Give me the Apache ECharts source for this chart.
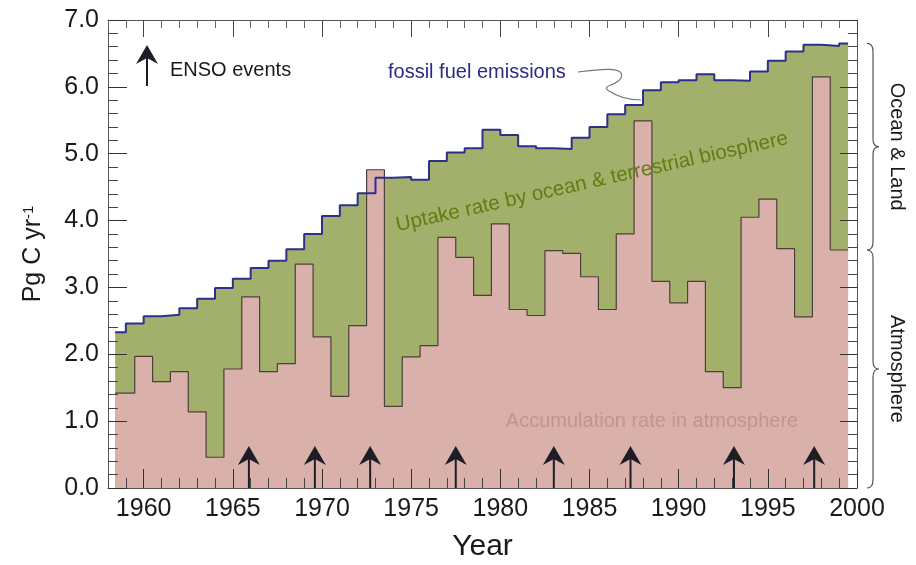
<!DOCTYPE html>
<html>
<head>
<meta charset="utf-8">
<script src="https://cdn.jsdelivr.net/npm/echarts@6/dist/echarts.min.js"></script>
<style>
  html, body { margin: 0; padding: 0; background: #fff; }
  #chart { width: 916px; height: 565px; }
</style>
</head>
<body>
<div id="chart"></div>
<script>
// fossil fuel emissions, one value per year 1958..1999 (Pg C / yr)
const fossilYears = [];
for (let y = 1958; y <= 1999; y++) fossilYears.push(y);
const fossil = [
  2.33, 2.46, 2.57, 2.59, 2.69, 2.83, 2.99, 3.13, 3.29, 3.40,
  3.57, 3.80, 4.07, 4.23, 4.41, 4.64, 4.65, 4.61, 4.89, 5.02,
  5.08, 5.36, 5.28, 5.11, 5.08, 5.07, 5.24, 5.40, 5.59, 5.73,
  5.95, 6.07, 6.10, 6.19, 6.10, 6.09, 6.23, 6.39, 6.53, 6.63,
  6.61, 6.65
];
// accumulation rate in atmosphere, one value per year 1959..1999
const atmosYears = [];
for (let y = 1959; y <= 1999; y++) atmosYears.push(y);
const atmosphere = [
  1.42, 1.97, 1.59, 1.74, 1.14, 0.46, 1.78, 2.86, 1.74, 1.86,
  3.35, 2.26, 1.37, 2.43, 4.76, 1.22, 1.96, 2.13, 3.75, 3.45,
  2.88, 3.95, 2.67, 2.58, 3.55, 3.51, 3.16, 2.67, 3.80, 5.49,
  3.09, 2.77, 3.09, 1.74, 1.50, 4.05, 4.32, 3.58, 2.56, 6.15,
  3.56
];
const recordStart = 1958.4;
const recordEnd = 1999.5;
// El Nino events
const ensoYears = [1965.9, 1969.6, 1972.7, 1977.5, 1983.0, 1987.3, 1993.1, 1997.6];
const majorYears = [1960, 1965, 1970, 1975, 1980, 1985, 1990, 1995, 2000];

const FONT = "'Liberation Sans', Arial, Helvetica, sans-serif";
const GREEN = '#a3b06c';
const PINK = '#d9b0aa';
const BLUE = '#2e2e8c';
const OUTLINE = '#4c3f3a';

// fossil steps change on the year, atmosphere steps on the half year
let fossilPts = [[recordStart, fossil[0]]];
for (let i = 1; i < fossil.length; i++) fossilPts.push([fossilYears[i], fossil[i]]);
fossilPts.push([recordEnd, fossil[fossil.length - 1]]);

let atmosPts = [[recordStart, atmosphere[0]]];
for (let i = 1; i < atmosphere.length; i++) atmosPts.push([atmosYears[i] - 0.5, atmosphere[i]]);
atmosPts.push([recordEnd, atmosphere[atmosphere.length - 1]]);

function bracePath(bx, yt, yb) {
  const ym = (yt + yb) / 2, h = 6, c = 6, r = 8;
  return 'M' + (bx - h) + ' ' + yt +
    ' Q' + bx + ' ' + yt + ' ' + bx + ' ' + (yt + r) +
    ' L' + bx + ' ' + (ym - r) +
    ' Q' + bx + ' ' + ym + ' ' + (bx + c) + ' ' + ym +
    ' Q' + bx + ' ' + ym + ' ' + bx + ' ' + (ym + r) +
    ' L' + bx + ' ' + (yb - r) +
    ' Q' + bx + ' ' + yb + ' ' + (bx - h) + ' ' + yb;
}

const xBase = {
  type: 'value', min: 1958, max: 2000, z: 5,
  splitLine: { show: false },
  axisLine: { lineStyle: { color: '#555', width: 1 } }
};
const yBase = {
  type: 'value', min: 0, max: 7, interval: 1, z: 5,
  splitLine: { show: false },
  axisLine: { show: true, lineStyle: { color: '#555', width: 1 } },
  minorTick: { show: true, splitNumber: 5, length: 10, lineStyle: { color: '#444' } },
  axisTick: { inside: true, length: 19, lineStyle: { color: '#333' } }
};

let chart = echarts.init(document.getElementById('chart'), null, { renderer: 'canvas' });

const curveStyle = { stroke: '#777', lineWidth: 1.2 };

const chartOptions = {
  animation: false,
  backgroundColor: '#fff',
  textStyle: { fontFamily: FONT },
  grid: { left: 108, right: 59, top: 20, bottom: 77, outerBoundsMode: 'none' },
  xAxis: [
    Object.assign({}, xBase, {
      position: 'bottom', interval: 1,
      axisTick: { inside: true, length: 10, lineStyle: { color: '#444' } },
      axisLabel: { show: false }
    }),
    Object.assign({}, xBase, {
      position: 'bottom',
      axisLine: { show: false },
      axisTick: { inside: true, length: 19, customValues: majorYears, lineStyle: { color: '#333' } },
      axisLabel: {
        customValues: majorYears, fontSize: 25, color: '#1a1a1a', margin: 9, fontFamily: FONT,
        formatter: function (v) { return String(v); }
      },
      name: 'Year', nameLocation: 'middle', nameGap: 44,
      nameTextStyle: { fontSize: 30, color: '#1a1a1a', fontFamily: FONT }
    }),
    Object.assign({}, xBase, {
      position: 'top', interval: 1,
      axisTick: { inside: true, length: 8, lineStyle: { color: '#666' } },
      axisLabel: { show: false }
    }),
    Object.assign({}, xBase, {
      position: 'top',
      axisLine: { show: false },
      axisTick: { inside: true, length: 17, customValues: majorYears, lineStyle: { color: '#444' } },
      axisLabel: { show: false }
    })
  ],
  yAxis: [
    Object.assign({}, yBase, {
      position: 'left',
      axisLabel: {
        fontSize: 25, color: '#1a1a1a', margin: 9, fontFamily: FONT,
        formatter: function (v) { return v.toFixed(1); }
      },
      name: '{t|Pg C yr}{s|-1}', nameLocation: 'middle', nameGap: 62,
      nameTextStyle: {
        color: '#1a1a1a', fontFamily: FONT,
        rich: {
          t: { fontSize: 25, fontFamily: FONT, color: '#1a1a1a' },
          s: { fontSize: 15, fontFamily: FONT, color: '#1a1a1a', verticalAlign: 'top' }
        }
      }
    }),
    Object.assign({}, yBase, {
      position: 'right',
      axisTick: { inside: true, length: 17, lineStyle: { color: '#333' } },
      minorTick: { show: true, splitNumber: 5, length: 9, lineStyle: { color: '#444' } },
      axisLabel: { show: false }
    })
  ],
  series: [
    {
      name: 'ocean & land uptake',
      type: 'line', step: 'end', data: fossilPts,
      showSymbol: false, z: 1,
      lineStyle: { width: 0 },
      areaStyle: { color: GREEN, opacity: 1 }
    },
    {
      name: 'atmosphere',
      type: 'line', step: 'end', data: atmosPts,
      showSymbol: false, z: 2,
      lineStyle: { color: OUTLINE, width: 1.2 },
      areaStyle: { color: PINK, opacity: 1 }
    },
    {
      name: 'fossil fuel emissions',
      type: 'line', step: 'end', data: fossilPts,
      showSymbol: false, z: 3,
      lineStyle: { color: BLUE, width: 2 }
    },
    {
      name: 'ENSO',
      type: 'custom', z: 4,
      data: ensoYears.map(function (y) { return [y, 0]; }),
      renderItem: function (params, api) {
        const p = api.coord([api.value(0), 0]);
        const x = p[0], y0 = p[1];
        return {
          type: 'group',
          children: [
            { type: 'line', shape: { x1: x, y1: y0, x2: x, y2: y0 - 34 },
              style: { stroke: '#1d1d26', lineWidth: 2 } },
            { type: 'polygon',
              shape: { points: [[x, y0 - 42], [x + 11, y0 - 23], [x, y0 - 29], [x - 11, y0 - 23]] },
              style: { fill: '#1d1d26' } }
          ]
        };
      }
    },
    {
      name: 'braces',
      type: 'custom', z: 4,
      data: [[2000, 0, atmosphere[atmosphere.length - 1], fossil[fossil.length - 1]]],
      renderItem: function (params, api) {
        const bx = api.coord([api.value(0), 0])[0] + 16;
        const y0 = api.coord([2000, api.value(1)])[1];
        const y1 = api.coord([2000, api.value(2)])[1];
        const y2 = api.coord([2000, api.value(3)])[1];
        const lineStyle = { stroke: '#555', lineWidth: 1.2, fill: null };
        const txt = { fontSize: 20, fontFamily: FONT, fill: '#1a1a1a', align: 'center', verticalAlign: 'middle' };
        return {
          type: 'group',
          children: [
            { type: 'path', shape: { pathData: bracePath(bx, y2, y1) }, style: lineStyle },
            { type: 'path', shape: { pathData: bracePath(bx, y1, y0) }, style: lineStyle },
            { type: 'text', x: bx + 24, y: (y2 + y1) / 2, rotation: -Math.PI / 2,
              style: Object.assign({ text: 'Ocean & Land' }, txt) },
            { type: 'text', x: bx + 24, y: (y1 + y0) / 2, rotation: -Math.PI / 2,
              style: Object.assign({ text: 'Atmosphere' }, txt) }
          ]
        };
      }
    }
  ],
  graphic: [
    // legend arrow for ENSO events
    { type: 'line', shape: { x1: 147, y1: 86, x2: 147, y2: 55 }, style: { stroke: '#1d1d26', lineWidth: 2 }, z: 10 },
    { type: 'polygon', shape: { points: [[147, 45], [158, 64], [147, 58], [136, 64]] }, style: { fill: '#1d1d26' }, z: 10 },
    { type: 'text', x: 170, y: 70, z: 10,
      style: { text: 'ENSO events', fontSize: 20, fontFamily: FONT, fill: '#1a1a1a', verticalAlign: 'middle' } },
    { type: 'text', x: 388, y: 72, z: 10,
      style: { text: 'fossil fuel emissions', fontSize: 20, fontFamily: FONT, fill: '#2b2b85', verticalAlign: 'middle' } },
    // connector from the label to the emissions curve
    { type: 'bezierCurve', z: 10, style: curveStyle,
      shape: { x1: 578, y1: 72, cpx1: 600, cpy1: 69, cpx2: 626, cpy2: 66, x2: 621, y2: 78 } },
    { type: 'bezierCurve', z: 10, style: curveStyle,
      shape: { x1: 621, y1: 78, cpx1: 617, cpy1: 86, cpx2: 600, cpy2: 85, x2: 609, y2: 91 } },
    { type: 'bezierCurve', z: 10, style: curveStyle,
      shape: { x1: 609, y1: 91, cpx1: 618, cpy1: 97, cpx2: 630, cpy2: 100, x2: 641, y2: 100 } },
    { type: 'text', x: 592, y: 182, rotation: Math.atan2(88, 393), z: 10,
      style: { text: 'Uptake rate by ocean & terrestrial biosphere', fontSize: 20.5, fontFamily: FONT,
        fill: '#617d14', align: 'center', verticalAlign: 'middle' } },
    { type: 'text', x: 652, y: 421, z: 10,
      style: { text: 'Accumulation rate in atmosphere', fontSize: 20, fontFamily: FONT,
        fill: '#c4938b', align: 'center', verticalAlign: 'middle' } }
  ]
};
chart.setOption(chartOptions);
</script>
</body>
</html>
